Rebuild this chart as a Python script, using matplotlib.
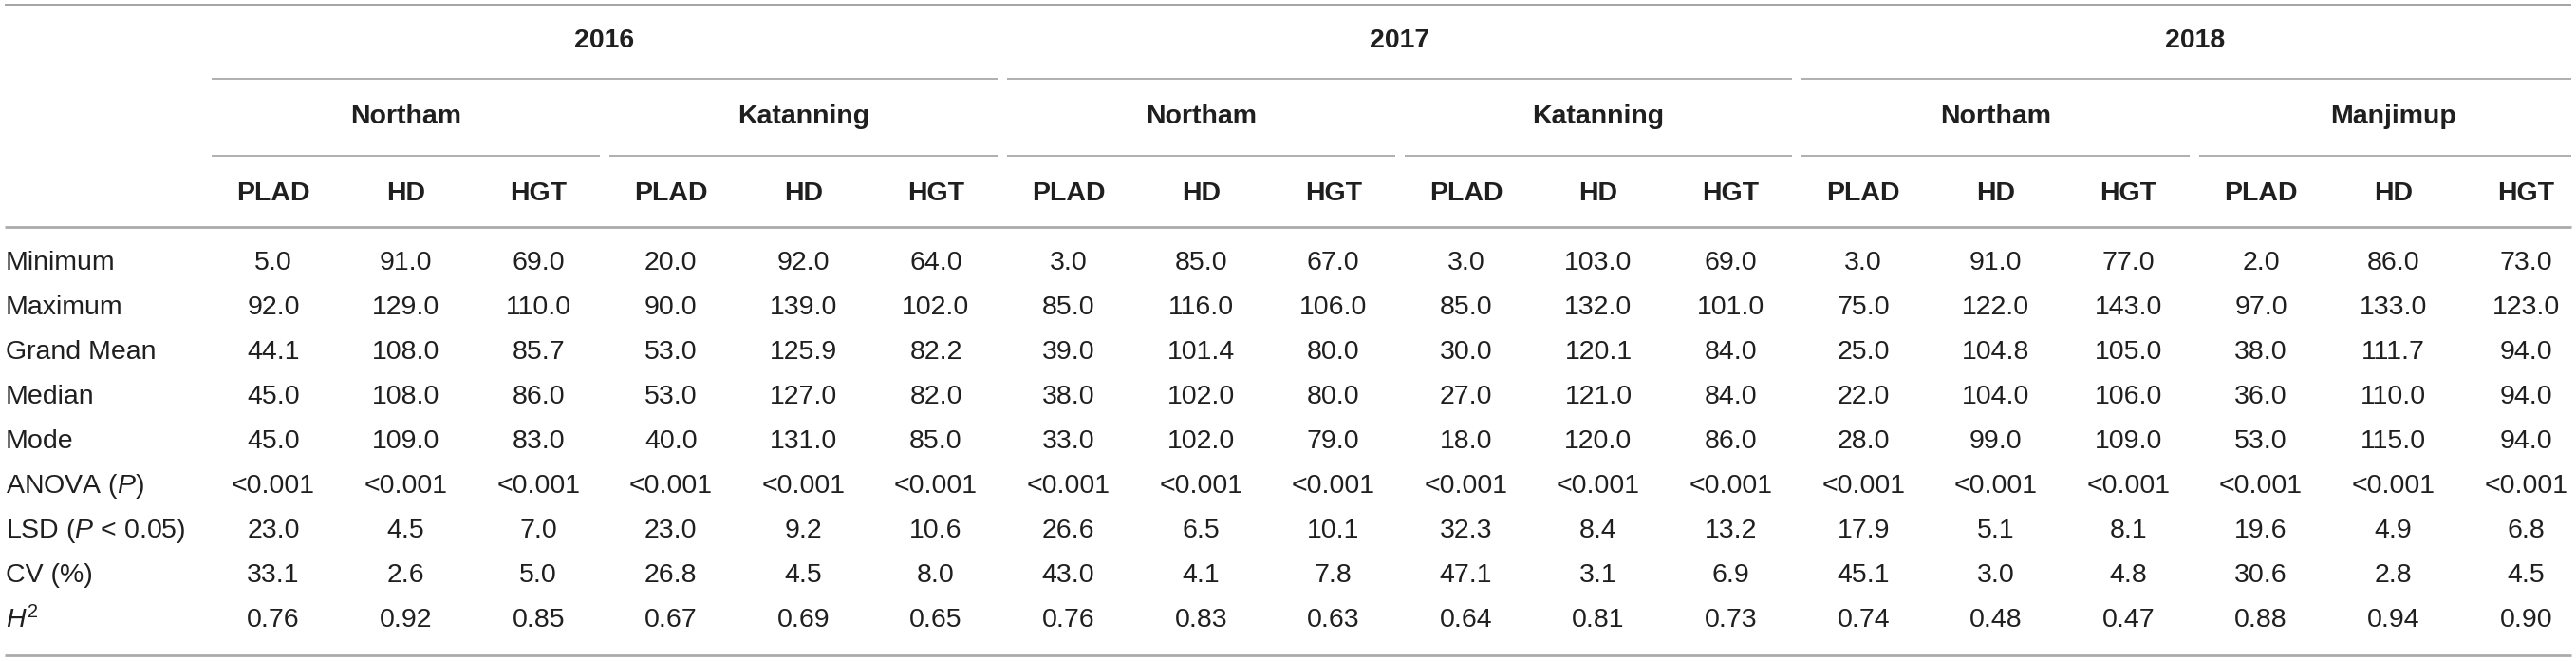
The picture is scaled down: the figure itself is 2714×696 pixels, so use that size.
#!/usr/bin/env python3
"""Summary statistics table (PLAD, HD, HGT by year and site), drawn as a figure."""
import matplotlib

matplotlib.use("Agg")
import matplotlib.pyplot as plt  # noqa: E402

plt.rcParams.update({"font.family": ["Liberation Sans", "DejaVu Sans"],
                     "mathtext.fontset": "custom",
                     "mathtext.rm": "Liberation Sans",
                     "mathtext.it": "Liberation Sans:italic",
                     "mathtext.bf": "Liberation Sans:bold"})

years = ["2016", "2017", "2018"]
sites = [["Northam", "Katanning"], ["Northam", "Katanning"], ["Northam", "Manjimup"]]
traits = ["PLAD", "HD", "HGT"]

row_labels = ["Minimum", "Maximum", "Grand Mean", "Median", "Mode",
              "ANOVA ($P$)", "LSD ($P$ < 0.05)", "CV (%)", "$H^2$"]

minimum = [5.0, 91.0, 69.0, 20.0, 92.0, 64.0, 3.0, 85.0, 67.0,
           3.0, 103.0, 69.0, 3.0, 91.0, 77.0, 2.0, 86.0, 73.0]
maximum = [92.0, 129.0, 110.0, 90.0, 139.0, 102.0, 85.0, 116.0, 106.0,
           85.0, 132.0, 101.0, 75.0, 122.0, 143.0, 97.0, 133.0, 123.0]
grand_mean = [44.1, 108.0, 85.7, 53.0, 125.9, 82.2, 39.0, 101.4, 80.0,
              30.0, 120.1, 84.0, 25.0, 104.8, 105.0, 38.0, 111.7, 94.0]
median = [45.0, 108.0, 86.0, 53.0, 127.0, 82.0, 38.0, 102.0, 80.0,
          27.0, 121.0, 84.0, 22.0, 104.0, 106.0, 36.0, 110.0, 94.0]
mode = [45.0, 109.0, 83.0, 40.0, 131.0, 85.0, 33.0, 102.0, 79.0,
        18.0, 120.0, 86.0, 28.0, 99.0, 109.0, 53.0, 115.0, 94.0]
anova = ["<0.001"] * 18
lsd = [23.0, 4.5, 7.0, 23.0, 9.2, 10.6, 26.6, 6.5, 10.1,
       32.3, 8.4, 13.2, 17.9, 5.1, 8.1, 19.6, 4.9, 6.8]
cv = [33.1, 2.6, 5.0, 26.8, 4.5, 8.0, 43.0, 4.1, 7.8,
      47.1, 3.1, 6.9, 45.1, 3.0, 4.8, 30.6, 2.8, 4.5]
h2 = [0.76, 0.92, 0.85, 0.67, 0.69, 0.65, 0.76, 0.83, 0.63,
      0.64, 0.81, 0.73, 0.74, 0.48, 0.47, 0.88, 0.94, 0.90]

W, H = 2714, 696
FS = 20.5
TXT = "#1f1f1f"


def fmt(row, nd):
    return [v if isinstance(v, str) else f"{v:.{nd}f}" for v in row]


body = [fmt(minimum, 1), fmt(maximum, 1), fmt(grand_mean, 1), fmt(median, 1),
        fmt(mode, 1), fmt(anova, 1), fmt(lsd, 1), fmt(cv, 1), fmt(h2, 2)]

fig = plt.figure(figsize=(W / 100, H / 100), dpi=100)
ax = fig.add_axes([0, 0, 1, 1])
ax.set_xlim(0, W)
ax.set_ylim(H, 0)
ax.axis("off")

# column geometry (pixels)
x0, dx = 288.0, 139.6
cx = [x0 + i * dx for i in range(18)]
xr_end = W - 5


def hline(y, xa, xb, color="#9a9a9a", lw=1.1):
    ax.plot([xa, min(xb, xr_end)], [y, y], color=color, lw=lw,
            solid_capstyle="butt")


# header rules
hline(5, 5, xr_end, color="#8c8c8c", lw=1.1)
hline(239, 5, xr_end, color="#ababab", lw=2.0)
hline(690, 5, xr_end, color="#ababab", lw=2.0)

y_year, y_site, y_trait = 43, 123, 204
for yi, yr in enumerate(years):
    first, last = cx[yi * 6], cx[yi * 6 + 5]
    ax.text((first + last) / 2, y_year, yr, ha="center", va="center",
            fontsize=FS, fontweight="bold", color=TXT)
    hline(82.5, first - dx / 2 + 5, last + dx / 2 - 5)
    for si, site in enumerate(sites[yi]):
        a, b = cx[yi * 6 + si * 3], cx[yi * 6 + si * 3 + 2]
        ax.text((a + b) / 2, y_site, site, ha="center", va="center",
                fontsize=FS, fontweight="bold", color=TXT)
        hline(164, a - dx / 2 + 5, b + dx / 2 - 5)
        for ti, tr in enumerate(traits):
            ax.text(cx[yi * 6 + si * 3 + ti], y_trait, tr, ha="center",
                    va="center", fontsize=FS, fontweight="bold", color=TXT)

# body rows
y_row0, dy = 277, 47
for ri, (lab, vals) in enumerate(zip(row_labels, body)):
    y = y_row0 + ri * dy
    ax.text(6, y, lab, ha="left", va="center", fontsize=FS, color=TXT)
    for ci, v in enumerate(vals):
        ax.text(cx[ci], y, v, ha="center", va="center", fontsize=FS, color=TXT)

fig.savefig("out.png", dpi=100)
